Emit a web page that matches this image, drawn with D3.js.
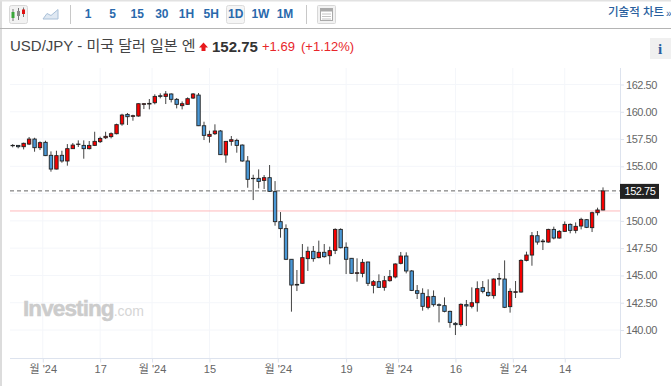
<!DOCTYPE html>
<html>
<head>
<meta charset="utf-8">
<script src="https://cdn.jsdelivr.net/npm/d3@7"></script>
<style>
    html, body { margin: 0; padding: 0; background: #fff; }
    svg { display: block; }
    text { font-family: "Liberation Sans", "Noto Sans CJK KR", sans-serif; }
</style>
</head>
<body>
<div id="chart"></div>
<script>
const highs = [157.04,156.95,157.17,157.69,157.62,157.29,157.35,156.37,156.43,156.43,157.04,157.14,157.38,157.38,157.32,158.17,157.72,158.17,158.11,158.91,159.82,159.89,159.73,160.77,160.80,161.17,161.60,161.69,161.90,161.69,161.26,160.95,161.32,161.72,161.72,159.09,158.27,158.85,158.33,157.32,157.78,157.53,157.01,155.94,154.23,154.72,154.20,155.12,153.65,150.81,149.68,146.48,145.50,147.88,147.64,147.70,148.19,147.88,147.64,149.32,149.32,148.03,146.60,146.57,146.51,146.26,144.58,145.10,144.95,145.50,146.11,147.15,147.12,145.50,144.12,143.82,143.73,143.63,142.44,142.99,141.77,140.73,142.44,142.75,143.91,144.46,144.49,144.64,144.73,145.22,146.38,143.82,144.49,146.48,147.18,148.98,149.07,148.34,149.28,149.47,149.16,149.95,149.77,149.86,150.29,150.17,150.84,151.21,153.07]
const lows = [156.74,156.65,156.55,156.95,156.34,156.49,155.94,154.51,154.72,155.33,155.06,156.59,156.77,155.70,156.55,156.86,157.14,157.50,157.56,157.93,158.72,158.79,159.18,159.55,160.25,160.22,160.68,161.23,160.71,160.86,160.31,160.22,160.65,161.17,158.69,157.41,157.17,157.87,156.04,155.33,156.89,156.25,155.42,153.04,151.91,152.98,152.92,152.68,149.56,148.46,146.41,141.68,143.57,144.25,145.41,146.26,146.57,146.63,146.02,146.96,147.48,145.13,145.13,144.43,144.83,144.03,143.36,143.85,143.60,144.43,144.73,146.02,145.19,143.57,142.84,141.77,141.89,142.14,140.70,141.62,140.21,139.54,140.30,140.37,141.98,141.68,143.36,143.05,142.87,144.06,142.01,141.59,142.93,143.42,146.29,145.89,147.82,147.33,148.00,148.31,148.37,148.98,148.86,148.86,149.22,149.34,148.98,150.50,150.97]
const opens = [156.92,156.92,156.80,157.04,157.50,156.71,157.20,156.01,154.75,156.01,155.49,156.62,157.01,156.92,156.62,156.92,157.26,157.62,157.72,157.99,158.88,159.76,159.58,159.61,160.68,160.71,160.83,161.47,161.41,161.63,161.14,160.56,160.68,161.26,161.53,158.72,157.75,157.99,158.24,156.04,157.29,157.38,156.95,155.49,153.87,153.90,153.71,153.96,152.68,149.93,149.29,146.48,144.18,144.28,146.54,147.21,146.63,147.12,146.81,147.30,149.22,147.58,146.57,145.19,145.19,146.23,144.09,144.43,143.91,144.52,144.86,146.11,146.78,145.41,143.60,143.36,142.08,143.08,142.32,142.23,141.71,140.61,140.49,142.32,142.17,142.50,143.88,143.45,143.15,144.67,144.67,142.14,143.45,143.48,146.38,146.87,148.64,148.09,148.06,149.22,148.43,149.04,149.68,149.13,149.53,150.11,149.38,150.75,151.00]
const closes = [156.89,156.80,157.11,157.50,156.71,157.17,155.98,154.75,155.98,155.49,156.62,156.95,157.04,156.62,156.92,157.29,157.56,157.75,157.99,158.82,159.70,159.55,159.64,160.74,160.74,160.77,161.41,161.41,161.63,161.14,160.68,160.74,161.20,161.63,158.72,157.84,157.93,158.24,156.07,157.29,157.44,156.92,155.49,153.81,153.90,153.62,153.96,152.71,149.93,149.29,146.48,144.12,144.12,146.63,147.21,146.54,147.12,146.72,147.27,149.22,147.54,146.48,145.19,145.25,146.20,144.28,144.43,143.91,144.52,144.89,146.05,146.78,145.41,143.63,143.36,142.17,143.05,142.32,142.26,141.71,140.70,140.49,142.35,142.20,142.50,143.79,143.54,143.15,144.67,144.73,142.08,143.54,143.51,146.38,146.87,148.64,148.06,148.15,149.22,148.43,149.04,149.68,149.13,149.50,150.14,149.41,150.75,151.00,152.75]

// 152.50 sits behind the last price box in the original, so it gets a grid line but no label
const priceTicks = [140, 142.5, 145, 147.5, 150, 155, 157.5, 160, 162.5]
const gridPrices = [140, 142.5, 145, 147.5, 150, 152.5, 155, 157.5, 160, 162.5]
const dateTicks = [5.5, 16, 25.5, 36, 48.5, 61, 70.5, 81, 91.5, 101]
const dateLabels = ["월 '24", "17", "월 '24", "15", "월 '24", "19", "월 '24", "16", "월 '24", "14"]
const intervals = ["1", "5", "15", "30", "1H", "5H", "1D", "1W", "1M"]
const lastPrice = 152.75
const refPrice = 150.91

const width = 671, height = 386
const svg = d3.select("#chart").append("svg")
    .attr("width", width)
    .attr("height", height)

const x = d3.scaleLinear().domain([0, 108]).range([12.7, 603])
const y = d3.scaleLinear().domain([140, 162.5]).range([330, 84.5])
const plotRight = 620, plotBottom = 358, plotTop = 68, plotLeft = 10

// Frame + toolbar

svg.append("rect").attr("x", 0).attr("y", 0).attr("width", 2).attr("height", height).attr("fill", "#dcdcdc")
svg.append("rect").attr("x", 0).attr("y", 0).attr("width", width).attr("height", 1.5).attr("fill", "#e2e2e2")
svg.append("rect").attr("x", 0).attr("y", 28).attr("width", width).attr("height", 1).attr("fill", "#b4b4b4")

const toolbar = svg.append("g")

toolbar.append("rect")
    .attr("x", 9.5).attr("y", 5.5).attr("width", 18).attr("height", 18).attr("rx", 2)
    .attr("fill", "#f2f2f2").attr("stroke", "#d8d8d8")

const iconCandles = [[13, 9, 21, 12, 18, "#3aa63a"], [18.5, 8, 20, 11, 16, "#888"], [23.5, 7.5, 17, 9.5, 14, "#e01010"]]
iconCandles.forEach(c => {
    toolbar.append("line").attr("x1", c[0]).attr("x2", c[0]).attr("y1", c[1]).attr("y2", c[2]).attr("stroke", "#777")
    toolbar.append("rect").attr("x", c[0] - 1.5).attr("y", c[3]).attr("width", 3).attr("height", c[4] - c[3]).attr("fill", c[5])
})

toolbar.append("path")
    .attr("d", "M43,19 L47,13.5 L51,15.5 L58,9.5 L58,19 Z")
    .attr("fill", "#dfe8f2").attr("stroke", "#a9c0d8")

toolbar.append("rect").attr("x", 70).attr("y", 5).attr("width", 1).attr("height", 19).attr("fill", "#c8c8c8")
toolbar.append("rect").attr("x", 306).attr("y", 5).attr("width", 1).attr("height", 19).attr("fill", "#c8c8c8")

toolbar.append("rect")
    .attr("x", 226.5).attr("y", 5.5).attr("width", 18).attr("height", 18).attr("rx", 2)
    .attr("fill", "#f5f5f5").attr("stroke", "#dcdcdc")

const intervalX = d3.scalePoint().domain(intervals).range([88, 285])
toolbar.selectAll("text.interval")
    .data(intervals)
    .join("text")
    .attr("class", "interval")
    .attr("x", d => intervalX(d))
    .attr("y", 18)
    .attr("text-anchor", "middle")
    .attr("font-size", 12)
    .attr("font-weight", "bold")
    .attr("fill", "#2a69ac")
    .text(d => d)

toolbar.append("rect")
    .attr("x", 317.5).attr("y", 5.5).attr("width", 18).attr("height", 18).attr("rx", 1)
    .attr("fill", "#f2f2f2").attr("stroke", "#d8d8d8")
toolbar.append("rect")
    .attr("x", 320.5).attr("y", 8.5).attr("width", 12).attr("height", 12)
    .attr("fill", "#fff").attr("stroke", "#aaa")
toolbar.append("rect").attr("x", 321).attr("y", 9).attr("width", 11).attr("height", 2.5).attr("fill", "#aaa")
toolbar.append("path").attr("d", "M322,14 h9 M322,16.5 h9 M322,19 h9").attr("stroke", "#c4c4c4")

toolbar.append("text")
    .attr("x", 608).attr("y", 16)
    .attr("font-size", 11.5).attr("font-weight", "500")
    .attr("fill", "#2a5f9e")
    .text("기술적 차트")
toolbar.append("text")
    .attr("x", 666).attr("y", 17)
    .attr("font-size", 10)
    .attr("fill", "#2a5f9e")
    .text("»")

// Title row

svg.append("text")
    .attr("x", 10).attr("y", 51)
    .attr("font-size", 15).attr("fill", "#444")
    .text("USD/JPY - 미국 달러 일본 엔")

svg.append("path")
    .attr("d", "M203.5,42.5 L208,47.5 L205.5,47.5 L205.5,51 L201.5,51 L201.5,47.5 L199,47.5 Z")
    .attr("fill", "#e8191c")

svg.append("text")
    .attr("x", 212).attr("y", 52)
    .attr("font-size", 15).attr("font-weight", "bold").attr("fill", "#333")
    .text("152.75")

svg.append("text")
    .attr("x", 262).attr("y", 51)
    .attr("font-size", 13).attr("fill", "#e8262a")
    .text("+1.69")

svg.append("text")
    .attr("x", 301).attr("y", 51)
    .attr("font-size", 13).attr("fill", "#e8262a")
    .text("(+1.12%)")

svg.append("rect").attr("x", 650).attr("y", 38).attr("width", 21).attr("height", 21).attr("fill", "#f0f0f0")
svg.append("text")
    .attr("x", 660).attr("y", 54)
    .attr("text-anchor", "middle")
    .attr("font-size", 15).attr("font-weight", "bold")
    .attr("fill", "#2a5f9e")
    .style("font-family", "'Liberation Serif', serif")
    .text("i")

// Grid

const grid = svg.append("g")
grid.selectAll("line.h")
    .data(gridPrices)
    .join("line")
    .attr("class", "h")
    .attr("x1", plotLeft).attr("x2", plotRight)
    .attr("y1", d => y(d)).attr("y2", d => y(d))
    .attr("stroke", "#f4f6fa")
grid.selectAll("line.v")
    .data(dateTicks)
    .join("line")
    .attr("class", "v")
    .attr("x1", d => x(d)).attr("x2", d => x(d))
    .attr("y1", plotTop).attr("y2", plotBottom)
    .attr("stroke", "#f4f6fa")

// Watermark

const watermark = svg.append("text")
    .attr("x", 23).attr("y", 316)
    .attr("fill", "#cccccc")
watermark.append("tspan")
    .attr("font-size", 22.5).attr("font-weight", "bold").attr("letter-spacing", -0.9)
    .attr("stroke", "#cccccc").attr("stroke-width", 0.5)
    .text("Investing")
watermark.append("tspan")
    .attr("font-size", 14).attr("fill", "#d6d6d6")
    .text(".com")

// Axes

const yAxis = d3.axisRight(y)
    .tickValues(priceTicks)
    .tickFormat(d3.format(".2f"))
    .tickSize(4)
    .tickPadding(2)

svg.append("g")
    .attr("transform", `translate(${plotRight},0)`)
    .call(yAxis)
    .call(g => g.select(".domain").remove())
    .call(g => g.selectAll("line").attr("stroke", "#dde3ee"))
    .call(g => g.selectAll("text")
        .attr("font-size", 11)
        .attr("letter-spacing", -0.45)
        .attr("font-family", "'Liberation Sans', sans-serif")
        .attr("fill", "#666"))

svg.append("line")
    .attr("x1", plotRight + 0.5).attr("x2", plotRight + 0.5)
    .attr("y1", plotTop).attr("y2", plotBottom)
    .attr("stroke", "#dde3ee")

const xAxis = d3.axisBottom(x)
    .tickValues(dateTicks)
    .tickFormat((d, i) => dateLabels[i])
    .tickSize(4)
    .tickPadding(3)

svg.append("g")
    .attr("transform", `translate(0,${plotBottom + 0.5})`)
    .call(xAxis)
    .call(g => g.select(".domain").remove())
    .call(g => g.selectAll("line").attr("stroke", "#dde3ee"))
    .call(g => g.selectAll("text")
        .attr("font-size", 11)
        .attr("font-family", "'Liberation Sans', 'Noto Sans CJK KR', sans-serif")
        .attr("fill", "#666"))

svg.append("line")
    .attr("x1", plotLeft).attr("x2", plotRight)
    .attr("y1", plotBottom + 0.5).attr("y2", plotBottom + 0.5)
    .attr("stroke", "#dde3ee")

// Reference lines

svg.append("line")
    .attr("x1", plotLeft).attr("x2", plotRight)
    .attr("y1", y(refPrice)).attr("y2", y(refPrice))
    .attr("stroke", "#ffb9bc")

svg.append("line")
    .attr("x1", plotLeft).attr("x2", plotRight)
    .attr("y1", y(lastPrice)).attr("y2", y(lastPrice))
    .attr("stroke", "#666")
    .attr("stroke-dasharray", "4,3")

// Candles

const candles = svg.append("g")
    .selectAll("g")
    .data(d3.range(closes.length))
    .join("g")

candles.append("line")
    .attr("x1", i => x(i)).attr("x2", i => x(i))
    .attr("y1", i => y(highs[i])).attr("y2", i => y(lows[i]))
    .attr("stroke", "#444")

candles.append("rect")
    .attr("x", i => x(i) - 1.7)
    .attr("width", 3.4)
    .attr("y", i => y(Math.max(opens[i], closes[i])))
    .attr("height", i => Math.abs(y(opens[i]) - y(closes[i])))
    .attr("fill", i => closes[i] >= opens[i] ? "#f80000" : "#4a98d6")
    .attr("stroke", "#222")
    .attr("stroke-width", 0.9)

// Last price label

const lastY = y(lastPrice)
svg.append("rect")
    .attr("x", plotRight).attr("y", lastY - 7)
    .attr("width", 39).attr("height", 15)
    .attr("fill", "#222")
svg.append("text")
    .attr("x", 640).attr("y", lastY + 4.5)
    .attr("text-anchor", "middle")
    .attr("font-size", 11)
    .attr("letter-spacing", -0.45)
    .attr("fill", "#fff")
    .text(d3.format(".2f")(lastPrice))
</script>
</body>
</html>
